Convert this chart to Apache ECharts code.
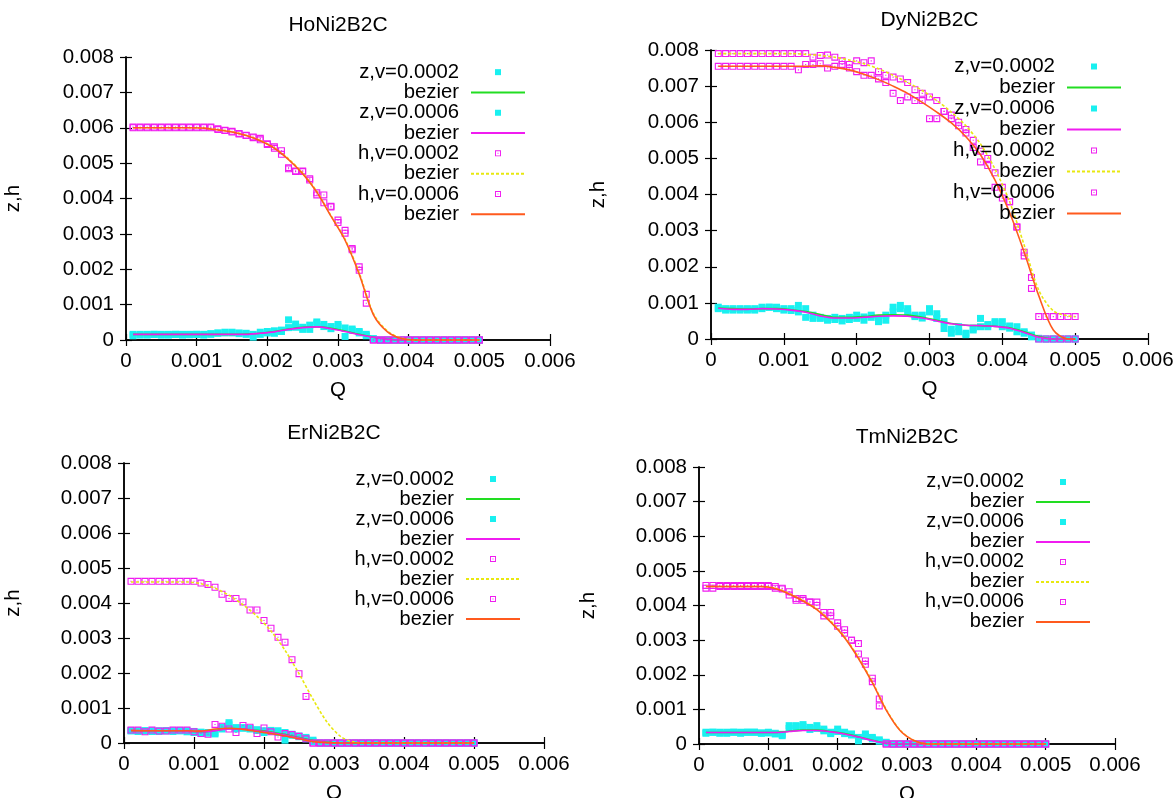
<!DOCTYPE html>
<html>
<head>
<meta charset="utf-8">
<script src="https://cdn.jsdelivr.net/npm/echarts@6/dist/echarts.min.js"></script>
<style>html,body{margin:0;background:#fff}#main{width:1176px;height:798px}</style>
</head>
<body>
<div id="main"></div>
<script>
// measured points: Q = 0.0001 .. 0.005
const Q = [
  0.0001,0.0002,0.0003,0.0004,0.0005,0.0006,0.0007,0.0008,0.0009,0.0010,
  0.0011,0.0012,0.0013,0.0014,0.0015,0.0016,0.0017,0.0018,0.0019,0.0020,
  0.0021,0.0022,0.0023,0.0024,0.0025,0.0026,0.0027,0.0028,0.0029,0.0030,
  0.0031,0.0032,0.0033,0.0034,0.0035,0.0036,0.0037,0.0038,0.0039,0.0040,
  0.0041,0.0042,0.0043,0.0044,0.0045,0.0046,0.0047,0.0048,0.0049,0.0050];
// x positions of the read-off bezier curves
const BQ = [
  0.0001,0.0003,0.0005,0.0007,0.0009,0.0011,0.0013,0.0015,0.0017,0.0019,
  0.0021,0.0023,0.0025,0.0027,0.0029,0.0031,0.0033,0.0035,0.0037,0.0039,
  0.0041,0.0043,0.0045,0.0047,0.0049,0.0050];

// HoNi2B2C
const hoZ02 = [
  0.00016,0.00014,0.00016,0.00016,0.00014,0.00016,0.00016,0.00016,0.00015,0.00016,
  0.00016,0.00016,0.00019,0.00022,0.00020,0.00018,0.00016,0.00008,0.00022,0.00024,
  0.00019,0.00024,0.00057,0.00045,0.00030,0.00030,0.00051,0.00044,0.00038,0.00044,
  0.00034,0.00031,0.00024,0.00016,0.00004,0,0,0,0,0,
  0,0,0,0,0,0,0,0,0,0];
const hoZ06 = [
  0.00012,0.00016,0.00014,0.00016,0.00016,0.00014,0.00016,0.00014,0.00016,0.00016,
  0.00014,0.00018,0.00020,0.00020,0.00022,0.00020,0.00019,0.00016,0.00016,0.00020,
  0.00026,0.00028,0.00035,0.00036,0.00036,0.00042,0.00046,0.00038,0.00032,0.00038,
  0.00010,0.00027,0.00020,0.00012,0.00002,0,0,0,0,0,
  0,0,0,0,0,0,0,0,0,0];
const hoH02 = [
  0.006,0.006,0.006,0.006,0.006,0.006,0.006,0.006,0.006,0.006,
  0.006,0.006,0.00597,0.00593,0.0059,0.00584,0.00579,0.00574,0.0057,0.00553,
  0.00546,0.00535,0.00487,0.00478,0.00478,0.00456,0.00416,0.0041,0.00378,0.00339,
  0.0031,0.00259,0.00207,0.00129,0,0,0,0,0,0,
  0,0,0,0,0,0,0,0,0,0];
const hoH06 = [
  0.00602,0.00602,0.00602,0.00602,0.00602,0.00602,0.00602,0.00602,0.00602,0.00602,
  0.00602,0.00602,0.00595,0.00592,0.00588,0.00582,0.00578,0.00572,0.00566,0.00555,
  0.00542,0.00525,0.00484,0.00476,0.00476,0.00452,0.0041,0.00388,0.00376,0.00332,
  0.00302,0.00255,0.00197,0.00104,0,0,0,0,0,0,
  0,0,0,0,0,0,0,0,0,0];
const hoZ02b = [0.00016,0.00016,0.00016,0.00016,0.00016,0.00016,0.00016,0.00016,0.00017,0.00019,
  0.00024,0.00031,0.00036,0.00037,0.00033,0.00025,0.00016,0.00008,0.00002,0,0,0,0,0,0,0];
const hoZ06b = [0.00016,0.00016,0.00016,0.00016,0.00016,0.00016,0.00016,0.00016,0.00016,0.00019,
  0.00023,0.0003,0.00035,0.00037,0.00032,0.00024,0.00015,0.00008,0.00002,0,0,0,0,0,0,0];
const hoH02b = [0.006,0.006,0.006,0.006,0.006,0.00599,0.00595,0.00589,0.00579,0.00564,
  0.00543,0.00512,0.00472,0.0042,0.00352,0.00285,0.0019,0.00075,0.00025,0.00005,0,0,0,0,0,0];
const hoH06b = [0.006,0.006,0.006,0.006,0.006,0.00599,0.00594,0.00588,0.00578,0.00563,
  0.00542,0.0051,0.0047,0.00418,0.0035,0.00282,0.00186,0.00072,0.00023,0.00004,0,0,0,0,0,0];

// DyNi2B2C
const dyZ02 = [
  0.00088,0.00084,0.0008,0.00084,0.0008,0.00084,0.00088,0.00088,0.00088,0.00084,
  0.00084,0.00093,0.00084,0.00057,0.00057,0.00052,0.00054,0.0005,0.00054,0.00066,
  0.00061,0.00066,0.00048,0.00052,0.00088,0.00093,0.00084,0.00066,0.00066,0.00084,
  0.0007,0.00029,0.00027,0.0002,0.00016,0.00025,0.00057,0.00034,0.00048,0.00048,
  0.00036,0.00034,0.0002,0.00011,0.00002,0,0,0,0,0];
const dyZ06 = [
  0.00084,0.0008,0.00084,0.0008,0.00084,0.0008,0.00084,0.00088,0.00084,0.0008,
  0.00079,0.00075,0.0006,0.00066,0.0006,0.00057,0.0006,0.00057,0.0006,0.00057,
  0.00052,0.0006,0.00057,0.00066,0.00075,0.00084,0.00075,0.00062,0.00058,0.00075,
  0.00057,0.00048,0.00016,0.00034,0.00012,0.0003,0.00034,0.0004,0.00044,0.00034,
  0.0003,0.0002,0.00016,0.00006,0,0,0,0,0,0];
const dyH02 = [
  0.0079,0.0079,0.0079,0.0079,0.0079,0.0079,0.0079,0.0079,0.0079,0.0079,
  0.0079,0.0079,0.0079,0.0078,0.00785,0.00786,0.0078,0.0077,0.0076,0.0077,
  0.00765,0.0077,0.0074,0.0073,0.00725,0.0072,0.0071,0.0069,0.0068,0.0067,
  0.0066,0.0063,0.0062,0.006,0.0058,0.0055,0.0052,0.005,0.0046,0.0042,
  0.0038,0.0031,0.0024,0.0017,0.00062,0.00062,0.00062,0.00062,0.00062,0.00062];
const dyH06 = [
  0.00755,0.00755,0.00755,0.00755,0.00755,0.00755,0.00755,0.00755,0.00755,0.00755,
  0.00755,0.00745,0.0076,0.0076,0.00762,0.0075,0.00755,0.0076,0.0075,0.0074,
  0.0073,0.0073,0.0072,0.0071,0.0068,0.0066,0.0067,0.0066,0.0066,0.0061,
  0.0061,0.0063,0.0061,0.0059,0.0057,0.0053,0.0049,0.0048,0.0042,0.0039,
  0.0038,0.0031,0.0023,0.0014,0,0,0,0,0,0];
const dyZ02b = [0.00086,0.00084,0.00083,0.00084,0.00084,0.00081,0.00076,0.00068,0.0006,0.0006,
  0.00062,0.00066,0.00067,0.00066,0.0006,0.00052,0.00043,0.00038,0.00037,0.00035,
  0.00031,0.0002,0.00007,0,0,0];
const dyZ06b = [0.00085,0.00082,0.00082,0.00084,0.00083,0.0008,0.00074,0.00064,0.00058,0.00058,
  0.0006,0.00063,0.00064,0.00063,0.00058,0.0005,0.00042,0.00038,0.00037,0.00035,
  0.0003,0.00018,0.00005,0,0,0];
const dyH02b = [0.0079,0.0079,0.0079,0.0079,0.0079,0.0079,0.00788,0.00785,0.0078,0.00772,
  0.00762,0.00748,0.0073,0.0071,0.00688,0.0066,0.00628,0.0059,0.0054,0.0047,
  0.0038,0.0026,0.00135,0.00078,0.00064,0.00062];
const dyH06b = [0.00755,0.00755,0.00755,0.00755,0.00755,0.00755,0.00755,0.00756,0.00752,0.00745,
  0.00733,0.00718,0.007,0.0068,0.00655,0.00628,0.00598,0.0056,0.0051,0.0044,
  0.0035,0.0024,0.0012,0.00025,0,0];

// ErNi2B2C
const erZ02 = [
  0.00035,0.00035,0.00035,0.00035,0.00033,0.00035,0.00035,0.00035,0.00032,0.0003,
  0.00027,0.00028,0.00029,0.00045,0.00052,0.00044,0.00042,0.0004,0.00038,0.00035,
  0.00033,0.0003,0.00008,0.00025,0.00018,0.00016,0.00008,0,0,0,
  0,0,0,0,0,0,0,0,0,0,
  0,0,0,0,0,0,0,0,0,0];
const erZ06 = [
  0.00035,0.00033,0.00035,0.00033,0.00035,0.00035,0.00033,0.00035,0.00035,0.00033,
  0.00031,0.0003,0.00026,0.0004,0.00058,0.0004,0.00044,0.00042,0.00036,0.0003,
  0.00036,0.00035,0.0003,0.00022,0.0002,0.00012,0.00004,0,0,0,
  0,0,0,0,0,0,0,0,0,0,
  0,0,0,0,0,0,0,0,0,0];
const erH02 = [
  0.00462,0.00462,0.00462,0.00462,0.00462,0.00462,0.00462,0.00462,0.00462,0.00462,
  0.00457,0.00453,0.00445,0.00425,0.00413,0.00413,0.00403,0.0038,0.0038,0.0035,
  0.00328,0.00302,0.00288,0.00238,0.00198,0.00133,0,0,0,0,
  0,0,0,0,0,0,0,0,0,0,
  0,0,0,0,0,0,0,0,0,0];
const erH06 = [
  0.00037,0.00037,0.00032,0.00037,0.00034,0.00034,0.00037,0.00037,0.00037,0.00032,
  0.00027,0.00025,0.00053,0.00048,0.0004,0.0003,0.0005,0.00045,0.00027,0.00043,
  0.00032,0.00017,0.00027,0.00024,0.00019,0.00012,0,0,0,0,
  0,0,0,0,0,0,0,0,0,0,
  0,0,0,0,0,0,0,0,0,0];
const erZ02b = [0.00035,0.00035,0.00035,0.00035,0.00034,0.00032,0.00036,0.00041,0.0004,0.00036,
  0.00031,0.00024,0.00015,0.00007,0.00002,0,0,0,0,0,0,0,0,0,0,0];
const erZ06b = [0.00035,0.00035,0.00035,0.00035,0.00034,0.00032,0.00035,0.0004,0.0004,0.00035,
  0.0003,0.00023,0.00014,0.00006,0.00001,0,0,0,0,0,0,0,0,0,0,0];
const erH02b = [0.0046,0.0046,0.0046,0.0046,0.0046,0.00455,0.00442,0.00422,0.00395,0.00362,
  0.0032,0.00265,0.00198,0.00125,0.0006,0.00018,0.00002,0,0,0,0,0,0,0,0,0];
const erH06b = [0.00036,0.00035,0.00035,0.00035,0.00035,0.00034,0.0004,0.00042,0.00039,0.00033,
  0.00027,0.0002,0.00012,0.00004,0.00001,0,0,0,0,0,0,0,0,0,0,0];

// TmNi2B2C
const tmZ02 = [
  0.00034,0.00034,0.00031,0.00034,0.00034,0.00034,0.00034,0.00034,0.00032,0.00032,
  0.00029,0.00024,0.00053,0.00053,0.00056,0.00048,0.00053,0.00043,0.00034,0.00043,
  0.00034,0.00029,0.00019,0.00029,0.00019,0.00012,0.00005,0,0,0,
  0,0,0,0,0,0,0,0,0,0,
  0,0,0,0,0,0,0,0,0,0];
const tmZ06 = [
  0.00031,0.00034,0.00034,0.00031,0.00034,0.00031,0.00034,0.00034,0.00031,0.00034,
  0.00031,0.00028,0.00045,0.0005,0.0005,0.00042,0.00045,0.00038,0.0003,0.00036,
  0.0003,0.00026,0.00009,0.00022,0.00015,0.00008,0.00002,0,0,0,
  0,0,0,0,0,0,0,0,0,0,
  0,0,0,0,0,0,0,0,0,0];
const tmH02 = [
  0.00458,0.00458,0.00458,0.00458,0.00458,0.00458,0.00458,0.00458,0.00458,0.00458,
  0.00455,0.0045,0.0044,0.0042,0.0042,0.0041,0.0041,0.0038,0.0038,0.0035,
  0.0033,0.003,0.0029,0.0024,0.0019,0.0013,0,0,0,0,
  0,0,0,0,0,0,0,0,0,0,
  0,0,0,0,0,0,0,0,0,0];
const tmH06 = [
  0.0045,0.0045,0.00455,0.00455,0.00455,0.00455,0.00455,0.00455,0.00455,0.00455,
  0.0045,0.00448,0.0043,0.00415,0.00415,0.0041,0.004,0.0037,0.0037,0.0034,
  0.0032,0.003,0.0026,0.0023,0.0018,0.0011,0,0,0,0,
  0,0,0,0,0,0,0,0,0,0,
  0,0,0,0,0,0,0,0,0,0];
const tmZ02b = [0.00033,0.00033,0.00033,0.00033,0.00033,0.00033,0.00037,0.0004,0.0004,0.00036,
  0.0003,0.00021,0.00011,0.00002,0,0,0,0,0,0,0,0,0,0,0,0];
const tmZ06b = [0.00033,0.00033,0.00033,0.00033,0.00033,0.00033,0.00036,0.00039,0.00039,0.00035,
  0.00029,0.0002,0.0001,0.00002,0,0,0,0,0,0,0,0,0,0,0,0];
const tmH02b = [0.00455,0.00455,0.00455,0.00455,0.00455,0.0045,0.00435,0.00415,0.0039,0.00355,
  0.0031,0.0025,0.0018,0.001,0.0004,0.0001,0,0,0,0,0,0,0,0,0,0];
const tmH06b = [0.00455,0.00455,0.00455,0.00455,0.00455,0.00449,0.00433,0.00413,0.00388,0.00352,
  0.00307,0.00247,0.00177,0.00098,0.00039,0.0001,0,0,0,0,0,0,0,0,0,0];

const xTicks = [0, 0.006, 0.001];   // min, max, interval
const yTicks = [0, 0.008, 0.001];

const FONT = "'Liberation Sans', Arial, sans-serif";
const CYAN = '#19f0f0', GREEN = '#22dd22', MAGENTA = '#f01cf0', YELLOW = '#e8e810', ORANGE = '#ff5a1e';
const FULL_SQ = 'path://M0,0H10V10H0Z';
const OPEN_SQ = 'path://M0,0H10V10H0Z M1.6,1.6V8.4H8.4V1.6Z M4.2,4.2H5.8V5.8H4.2Z';

const panels = [
  {title: 'HoNi2B2C', grid: {left: 126, top: 57, width: 424, height: 283}, titleTop: 15, yGap: 102,
   lg: {right: 650, top: 62, lh: 20.3},
   d: [hoZ02, hoZ02b, hoZ06, hoZ06b, hoH02, hoH02b, hoH06, hoH06b]},
  {title: 'DyNi2B2C', grid: {left: 711, top: 50, width: 437, height: 289}, titleTop: 10, yGap: 102,
   lg: {right: 54, top: 56, lh: 20.5},
   d: [dyZ02, dyZ02b, dyZ06, dyZ06b, dyH02, dyH02b, dyH06, dyH06b]},
  {title: 'ErNi2B2C', grid: {left: 124, top: 463, width: 420, height: 280}, titleTop: 423, yGap: 100,
   lg: {right: 655, top: 469, lh: 20},
   d: [erZ02, erZ02b, erZ06, erZ06b, erH02, erH02b, erH06, erH06b]},
  {title: 'TmNi2B2C', grid: {left: 699, top: 467, width: 416, height: 277}, titleTop: 427, yGap: 100,
   lg: {right: 85, top: 472, lh: 19.9},
   d: [tmZ02, tmZ02b, tmZ06, tmZ06b, tmH02, tmH02b, tmH06, tmH06b]}
];

const pairs = (xs, ys) => xs.map((x, i) => [x, ys[i]]);
const txt = {color: '#000', fontSize: 20.5, fontFamily: FONT};
const tick = {show: true, inside: true, length: 6, lineStyle: {color: '#000', width: 1.2}};
const line = {show: true, lineStyle: {color: '#000', width: 1.5}};

const option = {animation: false, title: [], grid: [], xAxis: [], yAxis: [], legend: [], series: []};

panels.forEach((p, i) => {
  option.title.push({text: p.title, left: p.grid.left + p.grid.width / 2, top: p.titleTop,
    textAlign: 'center', padding: 0, textStyle: Object.assign({}, txt, {fontWeight: 'normal', fontSize: 21})});
  option.grid.push(Object.assign({outerBoundsMode: 'none', containLabel: false}, p.grid));

  const xb = {gridIndex: i, type: 'value', min: xTicks[0], max: xTicks[1], interval: xTicks[2],
    axisLine: line, axisTick: tick, splitLine: {show: false}};
  option.xAxis.push(Object.assign({}, xb, {position: 'bottom', name: 'Q', nameLocation: 'middle', nameGap: 40,
    nameTextStyle: txt, axisLabel: Object.assign({margin: 11}, txt)}));
  option.xAxis.push(Object.assign({}, xb, {position: 'top', axisLabel: {show: false}}));
  const yb = {gridIndex: i, type: 'value', min: yTicks[0], max: yTicks[1], interval: yTicks[2],
    axisLine: line, axisTick: tick, splitLine: {show: false}};
  option.yAxis.push(Object.assign({}, yb, {position: 'left', name: 'z,h', nameLocation: 'middle', nameGap: p.yGap,
    nameTextStyle: txt, axisLabel: Object.assign({margin: 12}, txt)}));
  option.yAxis.push(Object.assign({}, yb, {position: 'right', axisLabel: {show: false}}));

  option.legend.push({
    orient: 'vertical', align: 'right', right: p.lg.right, top: p.lg.top,
    padding: 0, itemGap: 0, itemWidth: 54, itemHeight: 6, selectedMode: false,
    formatter: n => n.split('#')[0],
    textStyle: Object.assign({}, txt, {fontSize: p.lg.lh, lineHeight: p.lg.lh, padding: [0, 7, 0, 0]}),
    data: ['z,v=0.0002', {name: 'bezier#1', itemStyle: {opacity: 0}},
           'z,v=0.0006', {name: 'bezier#2', itemStyle: {opacity: 0}},
           'h,v=0.0002', {name: 'bezier#3', itemStyle: {opacity: 0}},
           'h,v=0.0006', {name: 'bezier#4', itemStyle: {opacity: 0}}]
  });

  const ax = {xAxisIndex: 2 * i, yAxisIndex: 2 * i};
  const pts = (name, ys, sym, color) => Object.assign({type: 'scatter', name, data: pairs(Q, ys),
    symbol: sym, symbolSize: 7, clip: false, itemStyle: {color, opacity: 1}}, ax);
  const crv = (name, ys, color, type) => Object.assign({type: 'line', name, data: pairs(BQ, ys),
    symbol: 'none', showSymbol: false, smooth: 0.3, clip: false,
    lineStyle: {color, width: 1.6, type: type || 'solid'}, itemStyle: {color}}, ax);

  option.series.push(
    pts('z,v=0.0002', p.d[0], FULL_SQ, CYAN),
    crv('bezier#1', p.d[1], GREEN),
    pts('z,v=0.0006', p.d[2], FULL_SQ, CYAN),
    crv('bezier#2', p.d[3], MAGENTA),
    pts('h,v=0.0002', p.d[4], OPEN_SQ, MAGENTA),
    crv('bezier#3', p.d[5], YELLOW, [3, 2]),
    pts('h,v=0.0006', p.d[6], OPEN_SQ, MAGENTA),
    crv('bezier#4', p.d[7], ORANGE)
  );
});

const chart = echarts.init(document.getElementById('main'));
chart.setOption(option);
</script>
</body>
</html>
